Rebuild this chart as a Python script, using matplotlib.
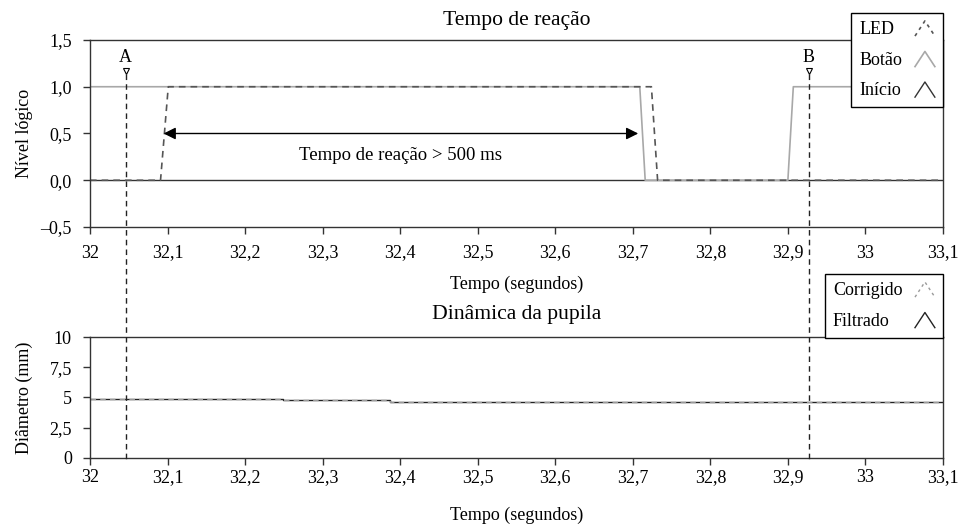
import numpy as np
import matplotlib
matplotlib.use("Agg")
import matplotlib.pyplot as plt
from matplotlib.lines import Line2D
from matplotlib.legend_handler import HandlerBase
from matplotlib.transforms import blended_transform_factory

plt.rcParams['font.family'] = ['Liberation Serif', 'DejaVu Serif']
plt.rcParams['font.size'] = 13

# reaction-time signals (top panel)
led_t = [32.0, 32.091, 32.101, 32.724, 32.732, 33.1]
led_v = [0, 0, 1, 1, 0, 0]
botao_t = [32.0, 32.709, 32.716, 32.900, 32.907, 33.1]
botao_v = [1, 1, 0, 0, 1, 1]
inicio_t = [32.0, 33.1]
inicio_v = [0, 0]

# pupil diameter (bottom panel)
pupila_t = [32.0, 32.249, 32.249, 32.387, 32.387, 33.1]
corrigido_v = [4.85, 4.85, 4.77, 4.77, 4.66, 4.66]
filtrado_v = [4.85, 4.85, 4.77, 4.77, 4.66, 4.66]

# markers A and B
marcas = ['A', 'B']
marcas_t = [32.046, 32.927]

# reaction arrow
seta_t = [32.095, 32.707]
seta_y = 0.5

xticks = [32.0, 32.1, 32.2, 32.3, 32.4, 32.5, 32.6, 32.7, 32.8, 32.9, 33.0, 33.1]
yticks_top = [-0.5, 0.0, 0.5, 1.0, 1.5]
yticks_bot = [0, 2.5, 5, 7.5, 10]


def fmt_x(v):
    return f"{round(v, 1):g}".replace('.', ',')


def fmt_top(v):
    return f"{v:.1f}".replace('.', ',').replace('-', '\u2013')


def fmt_bot(v):
    return f"{v:g}".replace('.', ',')


class CaretHandler(HandlerBase):
    def create_artists(self, legend, orig_handle, xdescent, ydescent,
                       width, height, fontsize, trans):
        x0, y0 = -xdescent, -ydescent
        ln = Line2D([x0, x0 + width / 2, x0 + width],
                    [y0 - 0.15 * height, y0 + 1.05 * height, y0 - 0.15 * height],
                    color=orig_handle.get_color(),
                    linestyle=orig_handle.get_linestyle(),
                    linewidth=orig_handle.get_linewidth(),
                    transform=trans)
        if orig_handle.get_linestyle() == '--':
            ln.set_dashes((2, 2.5))
        return [ln]


def left_align(fig, leg, sep):
    # legend with text first puts labels flush right; pad them to sit flush left
    fig.canvas.draw()
    r = fig.canvas.get_renderer()
    k = 72.0 / fig.dpi
    for col in leg._legend_handle_box.get_children():
        items = col.get_children()
        ws = [it.get_children()[0].get_window_extent(r).width for it in items]
        wmax = max(ws)
        for it, w in zip(items, ws):
            it.sep = sep + (wmax - w) * k


fig = plt.figure(figsize=(9.59, 5.26), dpi=100)
ax1 = fig.add_axes([0.0938, 0.5684, 0.8895, 0.3556])
ax2 = fig.add_axes([0.0938, 0.1293, 0.8895, 0.2300])

h_ini, = ax1.plot(inicio_t, inicio_v, color='#333333', lw=1.0, label='Início')
h_bot, = ax1.plot(botao_t, botao_v, color='#a8a8a8', lw=1.2, label='Botão')
h_led, = ax1.plot(led_t, led_v, color='#555555', lw=1.2, ls='--',
                  dashes=(4, 3), label='LED')

ax1.annotate('', xy=(seta_t[1], seta_y), xytext=(seta_t[0], seta_y),
             arrowprops=dict(arrowstyle='<|-|>', color='black', lw=1.0,
                             mutation_scale=18, shrinkA=0, shrinkB=0))
ax1.text(np.mean([32.1, 32.7]), 0.26, 'Tempo de reação > 500 ms',
         ha='center', va='center', fontsize=13.5)

for nome, t in zip(marcas, marcas_t):
    ax1.plot([t], [1.17], marker='v', ms=5, mfc='white', mec='black',
             mew=0.8, clip_on=False)
    ax1.text(t, 1.31, nome, ha='center', va='center')

ax1.set_xlim(32.0, 33.1)
ax1.set_ylim(-0.5, 1.5)
ax1.set_xticks(xticks)
ax1.set_xticklabels([fmt_x(v) for v in xticks])
ax1.set_yticks(yticks_top)
ax1.set_yticklabels([fmt_top(v) for v in yticks_top])
ax1.set_title('Tempo de reação', pad=11)
ax1.set_xlabel('Tempo (segundos)', labelpad=10)
ax1.set_ylabel('Nível lógico')
ax1.yaxis.set_label_coords(-0.067, 0.5)

leg1 = ax1.legend([h_led, h_bot, h_ini], ['LED', 'Botão', 'Início'],
                  loc='upper right', bbox_to_anchor=(1.0, 1.144),
                  borderaxespad=0, markerfirst=False, fancybox=False,
                  edgecolor='black', framealpha=1, handlelength=1.1,
                  handletextpad=0.7, labelspacing=0.75, borderpad=0.45,
                  handler_map={Line2D: CaretHandler()})
leg1.get_frame().set_linewidth(1.0)

h_fil, = ax2.plot(pupila_t, filtrado_v, color='#222222', lw=1.0, label='Filtrado')
h_cor, = ax2.plot(pupila_t, corrigido_v, color='#9a9a9a', lw=1.0, ls='--',
                  dashes=(4, 3), label='Corrigido')
ax2.set_xlim(32.0, 33.1)
ax2.set_ylim(0, 10)
ax2.set_xticks(xticks)
ax2.set_xticklabels([fmt_x(v) for v in xticks])
ax2.set_yticks(yticks_bot)
ax2.set_yticklabels([fmt_bot(v) for v in yticks_bot])
ax2.set_title('Dinâmica da pupila', pad=13)
ax2.set_xlabel('Tempo (segundos)', labelpad=15)
ax2.set_ylabel('Diâmetro (mm)')
ax2.yaxis.set_label_coords(-0.067, 0.5)

leg2 = ax2.legend([h_cor, h_fil], ['Corrigido', 'Filtrado'],
                  loc='upper right', bbox_to_anchor=(1.0, 1.52),
                  borderaxespad=0, markerfirst=False, fancybox=False,
                  edgecolor='black', framealpha=1, handlelength=1.1,
                  handletextpad=0.7, labelspacing=0.75, borderpad=0.45,
                  handler_map={Line2D: CaretHandler()})
leg2.get_frame().set_linewidth(1.0)

for ax in (ax1, ax2):
    for s in ax.spines.values():
        s.set_color('#333333')
        s.set_linewidth(1.0)
    ax.tick_params(direction='out', length=5, width=1.0, color='#333333', pad=8)
    for lab in ax.get_xticklabels():
        lab.set_va('baseline')
ax1.tick_params(axis='x', pad=17)
ax2.tick_params(axis='x', pad=12)

# dashed markers crossing both panels
tr = blended_transform_factory(ax1.transData, fig.transFigure)
for t in marcas_t:
    fig.add_artist(Line2D([t, t], [1 - 74 / 526, 1 - 462 / 526], transform=tr,
                          color='#222222', lw=1.0, ls='--', dashes=(4, 3)))

left_align(fig, leg1, 0.7 * 13)
left_align(fig, leg2, 0.7 * 13)

fig.savefig('out.png', dpi=100)
